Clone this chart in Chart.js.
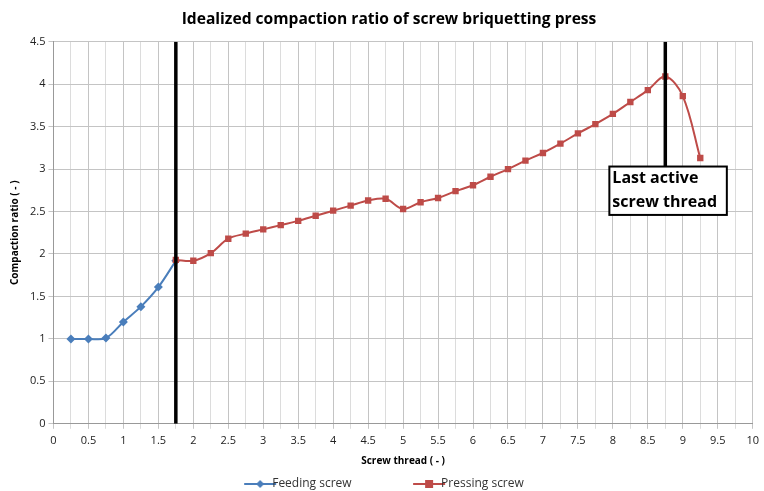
<!DOCTYPE html>
<html>
<head>
<meta charset="utf-8">
<script src="https://cdn.jsdelivr.net/npm/chart.js@4/dist/chart.umd.min.js"></script>
<style>
  html, body { margin: 0; padding: 0; background: #fff; overflow: hidden; }
  #wrap { width: 764px; height: 491px; overflow: hidden; }
</style>
</head>
<body>
<div id="wrap"><canvas id="compactionChart" width="764" height="500"></canvas></div>
<script>
// screw thread positions and compaction ratios
const feedThread = [0.25, 0.5, 0.75, 1, 1.25, 1.5, 1.75];
const feedRatio = [1.0, 1.0, 1.01, 1.2, 1.38, 1.61, 1.92];
const pressThread = [1.75, 2, 2.25, 2.5, 2.75, 3, 3.25, 3.5, 3.75, 4, 4.25, 4.5, 4.75, 5,
  5.25, 5.5, 5.75, 6, 6.25, 6.5, 6.75, 7, 7.25, 7.5, 7.75, 8, 8.25, 8.5, 8.75, 9, 9.25];
const pressRatio = [1.93, 1.92, 2.01, 2.18, 2.24, 2.29, 2.34, 2.39, 2.45, 2.51, 2.57, 2.63, 2.65, 2.53,
  2.61, 2.66, 2.74, 2.81, 2.91, 3.0, 3.1, 3.19, 3.3, 3.42, 3.53, 3.65, 3.79, 3.93, 4.09, 3.86, 3.13];
const seriesNames = ["Feeding screw", "Pressing screw"];
const feedEndLine = [[1.75, 0], [1.75, 4.5]];
const lastThreadLine = [[8.75, 4.5], [8.75, 3.03]];
const noteLines = ["Last active", "screw thread"];
const noteBox = [7.95, 9.63, 3.03, 2.46]; // xMin, xMax, yTop, yBottom

const blue = "#4a7ebb";
const red = "#be4b48";
const font = "'Open Sans', sans-serif";

const toPoints = (xs, ys) => xs.map((x, i) => ({ x: x, y: ys[i] }));
const toLine = (pts) => pts.map(p => ({ x: p[0], y: p[1] }));
const isHalf = (v) => Math.abs(v * 2 - Math.round(v * 2)) < 1e-9;

// legend swatch: short line with the marker in the middle, like the spreadsheet legend
function swatch(color, shape) {
  const c = document.createElement("canvas");
  c.width = 34; c.height = 12;
  const g = c.getContext("2d");
  g.strokeStyle = color; g.lineWidth = 2;
  g.beginPath(); g.moveTo(1, 6); g.lineTo(33, 6); g.stroke();
  g.fillStyle = color;
  if (shape === "diamond") {
    g.beginPath(); g.moveTo(17, 2); g.lineTo(21, 6); g.lineTo(17, 10); g.lineTo(13, 6); g.closePath(); g.fill();
  } else {
    g.fillRect(13, 2, 8, 8);
  }
  return c;
}
const legendIcons = [swatch(blue, "diamond"), swatch(red, "square")];

const notePlugin = {
  id: "note",
  afterDatasetsDraw(chart) {
    const { ctx, scales } = chart;
    const x1 = scales.x.getPixelForValue(noteBox[0]);
    const x2 = scales.x.getPixelForValue(noteBox[1]);
    const y1 = scales.y.getPixelForValue(noteBox[2]);
    const y2 = scales.y.getPixelForValue(noteBox[3]);
    ctx.save();
    ctx.fillStyle = "#fff";
    ctx.fillRect(x1, y1, x2 - x1, y2 - y1);
    ctx.strokeStyle = "#000";
    ctx.lineWidth = 2;
    ctx.strokeRect(x1, y1, x2 - x1, y2 - y1);
    ctx.fillStyle = "#000";
    ctx.font = "bold 16px " + font;
    ctx.textBaseline = "middle";
    const h = (y2 - y1) / 2;
    ctx.fillText(noteLines[0], x1 + 3, y1 + h * 0.5);
    ctx.fillText(noteLines[1], x1 + 3, y1 + h * 1.5);
    ctx.restore();
  }
};

new Chart(document.getElementById("compactionChart"), {
  type: "line",
  data: {
    datasets: [
      {
        label: seriesNames[0],
        data: toPoints(feedThread, feedRatio),
        borderColor: blue, backgroundColor: blue,
        borderWidth: 2, pointStyle: "rectRot", pointRadius: 4.5, pointBorderWidth: 0,
        tension: 0.35, order: 3
      },
      {
        label: seriesNames[1],
        data: toPoints(pressThread, pressRatio),
        borderColor: red, backgroundColor: red,
        borderWidth: 2, pointStyle: "rect", pointRadius: 4.5, pointBorderWidth: 0,
        tension: 0.35, order: 2
      },
      {
        label: "feed end",
        data: toLine(feedEndLine),
        borderColor: "#000", borderWidth: 3.5, pointRadius: 0, tension: 0, order: 1
      },
      {
        label: "last thread",
        data: toLine(lastThreadLine),
        borderColor: "#000", borderWidth: 3.5, pointRadius: 0, tension: 0, order: 1
      }
    ]
  },
  options: {
    responsive: false,
    animation: false,
    layout: { padding: { left: 9, right: -5, top: 0, bottom: 0 } },
    plugins: {
      tooltip: { enabled: false },
      title: {
        display: true,
        text: "Idealized compaction ratio of screw briquetting press",
        color: "#000",
        font: { family: font, size: 15.6, weight: "bold" },
        padding: { top: 10, bottom: 13 }
      },
      legend: {
        position: "bottom",
        labels: {
          color: "#333",
          font: { family: font, size: 12 },
          boxHeight: 12,
          padding: 6,
          usePointStyle: true,
          filter: (item) => item.datasetIndex < 2,
          sort: (a, b) => a.datasetIndex - b.datasetIndex,
          generateLabels(chart) {
            const items = Chart.defaults.plugins.legend.labels.generateLabels(chart);
            items.forEach(it => {
              if (it.datasetIndex < 2) it.pointStyle = legendIcons[it.datasetIndex];
              it.text = it.datasetIndex === 0 ? it.text + "                     " : it.text;
            });
            return items;
          }
        }
      }
    },
    scales: {
      x: {
        type: "linear", min: 0, max: 10,
        afterBuildTicks(axis) {
          const t = [];
          for (let i = 0; i <= 40; i++) t.push({ value: i / 4 });
          axis.ticks = t;
        },
        ticks: {
          autoSkip: false, maxRotation: 0, color: "#222", padding: 5,
          font: { family: font, size: 11 },
          callback: (v) => (isHalf(v) ? String(v) : "")
        },
        grid: {
          color: (c) => (c.tick && isHalf(c.tick.value) ? "#c4c4c4" : "#dcdcdc"),
          tickLength: 5
        },
        border: { color: "#999" },
        title: {
          display: true, text: "Screw thread ( - )", color: "#000",
          font: { family: font, size: 10, weight: "bold" }, padding: { top: 3, bottom: 5 }
        }
      },
      y: {
        min: 0, max: 4.5,
        ticks: {
          stepSize: 0.5, color: "#222", font: { family: font, size: 11 },
          callback: (v) => String(v)
        },
        grid: { color: "#c4c4c4", tickLength: 5 },
        border: { color: "#999" },
        title: {
          display: true, text: "Compaction ratio ( - )", color: "#000",
          font: { family: font, size: 10, weight: "bold" }, padding: { top: 0, bottom: 6 }
        }
      }
    }
  },
  plugins: [notePlugin]
});
</script>
</body>
</html>
